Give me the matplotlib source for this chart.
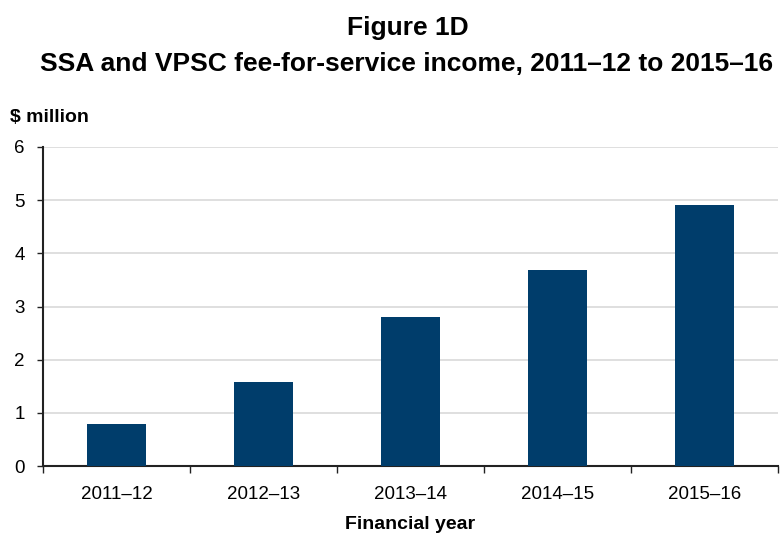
import matplotlib
matplotlib.use('Agg')
import matplotlib.pyplot as plt
import numpy as np

plt.rcParams['font.family'] = ['Liberation Sans', 'DejaVu Sans']

# Dados
anos = ['2011–12', '2012–13', '2013–14', '2014–15', '2015–16']
receita = [0.80, 1.58, 2.81, 3.68, 4.90]

fig = plt.figure(figsize=(7.82, 5.34), dpi=100)
ax = fig.add_axes([0.055, 0.127, 0.94, 0.598])

x = np.arange(len(anos))
ax.bar(x, receita, width=0.4, color='#003d6b', zorder=3)

ax.set_xlim(-0.5, len(anos) - 0.5)
ax.set_ylim(0, 6)
ax.set_yticks(range(0, 7))
ax.yaxis.grid(True, color='#d9d9d9', linewidth=1.2, zorder=0)

# Ticks do eixo x entre as categorias
ax.set_xticks(np.arange(-0.5, len(anos)), minor=False)
ax.set_xticklabels([])
ax.set_xticks(x, minor=True)
ax.set_xticklabels(anos, minor=True, fontsize=13.5)
ax.tick_params(axis='x', which='minor', length=0, pad=14)
ax.tick_params(axis='x', which='major', length=5, width=1, direction='out', color='#222222')
ax.tick_params(axis='y', length=4, width=1, labelsize=13.5, pad=9, color='#222222')

for lado in ['top', 'right']:
    ax.spines[lado].set_visible(False)
for lado in ['left', 'bottom']:
    ax.spines[lado].set_color('#222222')
    ax.spines[lado].set_linewidth(1.5)

fig.text(0.522, 0.947, 'Figure 1D', ha='center', va='center', fontsize=19, fontweight='bold')
fig.text(0.52, 0.881, 'SSA and VPSC fee-for-service income, 2011–12 to 2015–16',
         ha='center', va='center', fontsize=19, fontweight='bold')
fig.text(0.013, 0.78, '$ million', ha='left', va='center', fontsize=14, fontweight='bold')
fig.text(0.525, 0.017, 'Financial year', ha='center', va='center', fontsize=14, fontweight='bold')

plt.savefig('out.png', dpi=100)
plt.close()
